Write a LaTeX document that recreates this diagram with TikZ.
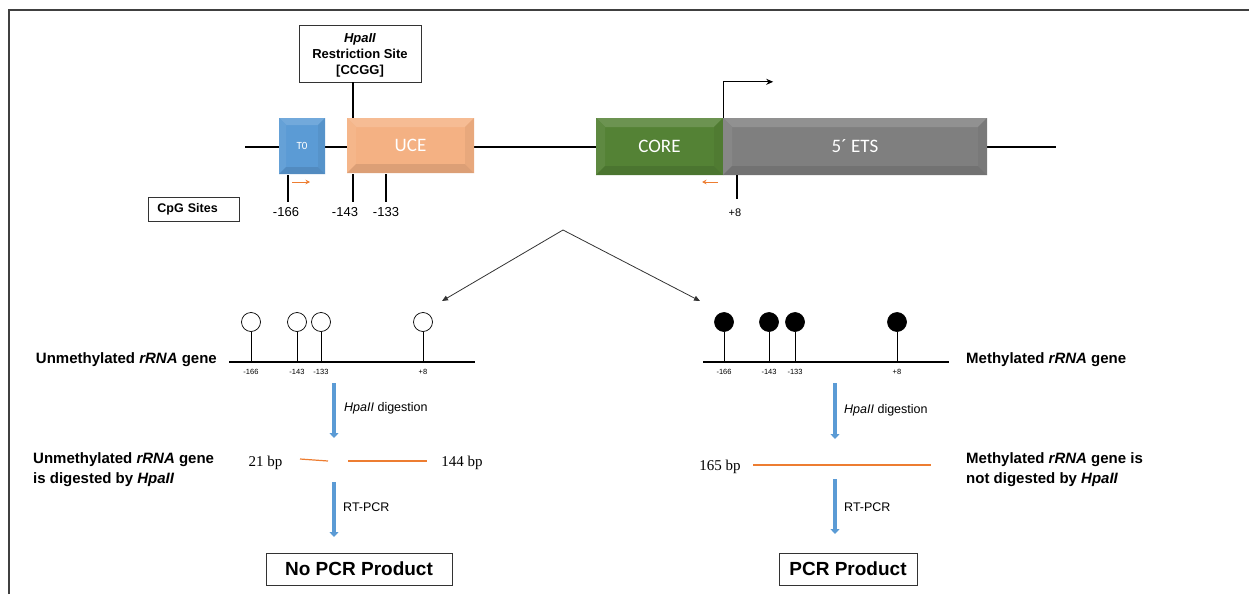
\documentclass[tikz,border=0pt]{standalone}
\usepackage{fontspec}
\setmainfont{Liberation Sans}
\newfontfamily\serifbp{Liberation Serif}
\newfontfamily\calib{Carlito}
\usetikzlibrary{arrows.meta,calc}
\definecolor{cblue}{HTML}{5B9BD5}
\definecolor{corange}{HTML}{ED7D31}
\definecolor{cuce}{HTML}{F4B183}
\definecolor{cgreen}{HTML}{548235}
\definecolor{cgray}{HTML}{7F7F7F}
\definecolor{cframe}{HTML}{404040}
\begin{document}
\begin{tikzpicture}[x=1pt,y=-1pt,
  gbox/.style={rectangle,inner sep=0pt,draw=none,text=white},
  bevel/.style 2 args={fill=#1,path picture={
    \path (path picture bounding box.north west) coordinate (bnw)
          (path picture bounding box.north east) coordinate (bne)
          (path picture bounding box.south west) coordinate (bsw)
          (path picture bounding box.south east) coordinate (bse);
    \path ([shift={(#2,-#2)}]bnw) coordinate (inw)
          ([shift={(-#2,-#2)}]bne) coordinate (ine)
          ([shift={(#2,#2)}]bsw) coordinate (isw)
          ([shift={(-#2,#2)}]bse) coordinate (ise);
    \fill[#1!86!white] (bnw)--(bne)--(ine)--(inw)--cycle;
    \fill[#1!94!white] (bnw)--(inw)--(isw)--(bsw)--cycle;
    \fill[#1!90!black] (bsw)--(isw)--(ise)--(bse)--cycle;
    \fill[#1!95!black] (bne)--(ine)--(ise)--(bse)--cycle;
  }},
  dna/.style={line width=2.6pt,black},
  tickline/.style={line width=1.3pt,black},
  stemline/.style={line width=0.7pt,black},
  primer/.style={corange,line width=0.9pt,-{Stealth[length=4.5pt,width=4.5pt]}},
  frag/.style={corange,line width=1.2pt},
  branch/.style={line width=0.8pt,black!80,-{Triangle[length=6pt,width=5pt]}},
  bigarrow/.style={cblue,line width=4.5pt,-{Triangle[length=5pt,width=9pt]}},
  lbox/.style={draw,line width=0.7pt,black!80,text=black,inner sep=0pt},
  lolo/.style={circle,draw,line width=0.7pt,minimum size=19pt,inner sep=0pt},
  poslab/.style={font=\fontsize{7.5}{9}\selectfont},
  cpglab/.style={font=\fontsize{13}{15}\selectfont},
  genelab/.style={font=\bfseries\fontsize{15}{20}\selectfont,align=left,inner sep=0pt},
  steplab/.style={font=\fontsize{12.5}{15}\selectfont,anchor=west,inner sep=0pt},
  bplab/.style={font=\serifbp\fontsize{15}{18}\selectfont,inner sep=0pt}
]
\useasboundingbox (0,0) rectangle (1249,594);
% frame
\coordinate (fbl) at (9,594); \coordinate (ftl) at (9,10); \coordinate (ftr) at (1249,10);
\draw[cframe,line width=1.4pt] (fbl) -- (ftl) -- (ftr);

% main DNA line
\coordinate (mainL) at (245,147); \coordinate (mainR) at (1056,147);
\draw[dna] (mainL) -- (mainR);

% boxes
\node[gbox,bevel={cblue}{7pt},minimum width=46pt,minimum height=56pt,font=\calib\fontsize{11}{13}\selectfont] (t0) at (302,146) {T0};
\node[gbox,bevel={cuce}{9pt},minimum width=127pt,minimum height=55pt,font=\calib\fontsize{19}{22}\selectfont] (uce) at (410.5,145.5) {UCE};
\node[gbox,bevel={cgreen}{9pt},minimum width=127pt,minimum height=57pt,font=\calib\fontsize{19}{22}\selectfont] (core) at (659.5,146.5) {CORE};
\node[gbox,bevel={cgray}{9pt},minimum width=264pt,minimum height=57pt,font=\calib\fontsize{19}{22}\selectfont] (ets) at (855,146.5) {5´ ETS};

% transcription start arrow
\draw[line width=1.3pt,-{Stealth[length=7pt,width=6pt]}] (core.north east) -- ++(0,-36) -- ++(50,0);

% HpaII box
\node[lbox,minimum width=122pt,minimum height=57pt] (hpa) at (360,53.5) {};
\node[align=center,inner sep=0pt,font=\bfseries\fontsize{13}{16}\selectfont] (hpatxt) at (360,55) {\textit{HpaII}\\Restriction Site\\{}[CCGG]};
\coordinate (hpat) at (353,118);
\draw[tickline] (hpat |- hpa.south) -- (hpat);

% CpG ticks
\coordinate (c166) at (288,175); \coordinate (c166b) at (288,202);
\coordinate (c143) at (353,174); \coordinate (c143b) at (353,202);
\coordinate (c133) at (386,174); \coordinate (c133b) at (386,202);
\coordinate (c8) at (737,175); \coordinate (c8b) at (737,199);
\draw[tickline] (c166) -- (c166b);
\draw[tickline] (c143) -- (c143b);
\draw[tickline] (c133) -- (c133b);
\draw[tickline] (c8) -- (c8b);
\node[cpglab] (l166) at (286,212) {-166};
\node[cpglab] (l143) at (345,212) {-143};
\node[cpglab] (l133) at (386,212) {-133};
\node[font=\fontsize{11}{13}\selectfont] (l8) at (735,213) {+8};

% primers
\coordinate (p1a) at (292,182); \coordinate (p1b) at (310,182);
\coordinate (p2a) at (718,182); \coordinate (p2b) at (702,182);
\draw[primer] (p1a) -- (p1b);
\draw[primer] (p2a) -- (p2b);

% CpG Sites box
\node[lbox,anchor=west,minimum height=24pt,text width=73pt,inner xsep=9pt,align=left,font=\bfseries\fontsize{12.5}{15}\selectfont] (cpgbox) at (148,209) {CpG Sites};

% branching arrows
\coordinate (apex) at (563,230); \coordinate (bl) at (442,301); \coordinate (br) at (700,301);
\draw[branch] (apex) -- (bl);
\draw[branch] (apex) -- (br);

% left gene (unmethylated)
\coordinate (ulA) at (229,362); \coordinate (ulB) at (475,362);
\draw[dna] (ulA) -- (ulB);
\foreach \x/\t [count=\i] in {251/-166,297/-143,321/-133,423/+8}{
  \node[lolo,fill=white] (u\i) at (\x,322) {};
  \coordinate (ub\i) at (\x,362);
  \draw[stemline] (u\i.south) -- (ub\i);
  \node[poslab] (ut\i) at (\x,372) {\t};
}
% right gene (methylated)
\coordinate (mlA) at (703,362); \coordinate (mlB) at (949,362);
\draw[dna] (mlA) -- (mlB);
\foreach \x/\t [count=\i] in {724/-166,769/-143,795/-133,897/+8}{
  \node[lolo,fill=black] (m\i) at (\x,322) {};
  \coordinate (mb\i) at (\x,362);
  \draw[stemline] (m\i.south) -- (mb\i);
  \node[poslab] (mt\i) at (\x,372) {\t};
}
\node[genelab,anchor=east] (ulab) at (217,360) {Unmethylated \textit{rRNA} gene};
\node[genelab,anchor=west] (mlab) at (966,360) {Methylated \textit{rRNA} gene};

% digestion arrows
\coordinate (d1a) at (334,383); \coordinate (d1b) at (334,438);
\coordinate (d2a) at (835,383); \coordinate (d2b) at (835,439);
\draw[bigarrow] (d1a) -- (d1b);
\draw[bigarrow] (d2a) -- (d2b);
\node[steplab] (dl1) at (344,408) {\textit{HpaII} digestion};
\node[steplab] (dl2) at (844,410) {\textit{HpaII} digestion};

% fragments
\node[bplab] (bp21) at (265.5,463) {21 bp};
\coordinate (f1a) at (300,459); \coordinate (f1b) at (328,461);
\coordinate (f2a) at (348,461); \coordinate (f2b) at (427,461);
\draw[frag] (f1a) -- (f1b);
\draw[frag] (f2a) -- (f2b);
\node[bplab] (bp144) at (462,463) {144 bp};
\node[bplab] (bp165) at (720,467) {165 bp};
\coordinate (f3a) at (753,465); \coordinate (f3b) at (931,465);
\draw[frag] (f3a) -- (f3b);

\node[genelab,anchor=west] (ud) at (33,470) {Unmethylated \textit{rRNA} gene\\is digested by \textit{HpaII}};
\node[genelab,anchor=west] (md) at (966,470) {Methylated \textit{rRNA} gene is\\not digested by \textit{HpaII}};

% RT-PCR arrows
\coordinate (r1a) at (334,482); \coordinate (r1b) at (334,537);
\coordinate (r2a) at (835,479); \coordinate (r2b) at (835,534);
\draw[bigarrow] (r1a) -- (r1b);
\draw[bigarrow] (r2a) -- (r2b);
\node[steplab] (rl1) at (343,507) {RT-PCR};
\node[steplab] (rl2) at (844,507) {RT-PCR};

% result boxes
\node[lbox,minimum width=186pt,minimum height=32pt,font=\bfseries\fontsize{19}{22}\selectfont] (nopcr) at (359,569) {No PCR Product};
\node[lbox,minimum width=138pt,minimum height=32pt,font=\bfseries\fontsize{19}{22}\selectfont] (pcr) at (848,569) {PCR Product};
\end{tikzpicture}
\end{document}
